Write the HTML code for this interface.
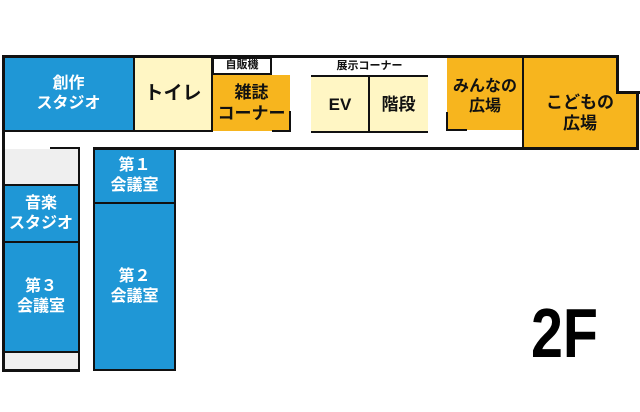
<!DOCTYPE html>
<html><head><meta charset="utf-8"><style>
body{margin:0;width:640px;height:412px;background:#fff;position:relative;overflow:hidden;font-family:"Liberation Sans","Noto Sans CJK JP",sans-serif;font-weight:bold}
.b{position:absolute;box-sizing:border-box;display:flex;align-items:center;justify-content:center;text-align:center;line-height:1.25}
.blue{background:#1f97d6;color:#fff;font-size:16px}
.yel{background:#fff6c4;color:#111;font-size:17px}
.org{background:#f7b51e;color:#111;font-size:17px}
.l{position:absolute;background:#111}
</style></head><body>
<div class="b blue" style="left:3px;top:57px;width:131px;height:74px">創作<br>スタジオ</div>
<div class="b yel" style="left:134px;top:57px;width:78px;height:74px;font-size:19px">トイレ</div>
<div class="b" style="left:212px;top:57px;width:60px;height:18px;border:2px solid #111;font-size:11px;color:#111">自販機</div>
<div class="b org" style="left:213px;top:75px;width:77px;height:56px">雑誌<br>コーナー</div>
<div class="b yel" style="left:311px;top:77px;width:58px;height:55px">EV</div>
<div class="b yel" style="left:369px;top:77px;width:59px;height:55px">階段</div>
<div class="b" style="left:311px;top:60px;width:117px;height:14px;font-size:11px;color:#111">展示コーナー</div>
<div class="b org" style="left:447px;top:57px;width:76px;height:73px;font-size:16px;padding-top:6px">みんなの<br>広場</div>
<div class="b org" style="left:523px;top:57px;width:114px;height:90px;padding-top:22px">こどもの<br>広場</div>
<div style="position:absolute;left:617px;top:54px;width:23px;height:37px;background:#fff"></div>
<div class="b" style="left:3px;top:149px;width:76px;height:36px;background:#efefef"></div>
<div class="b blue" style="left:3px;top:185px;width:76px;height:57px">音楽<br>スタジオ</div>
<div class="b blue" style="left:3px;top:242px;width:76px;height:110px">第３<br>会議室</div>
<div class="b" style="left:3px;top:352px;width:76px;height:18px;background:#efefef"></div>
<div class="b blue" style="left:94px;top:148px;width:81px;height:55px">第１<br>会議室</div>
<div class="b blue" style="left:94px;top:203px;width:81px;height:167px">第２<br>会議室</div>
<div class="l" style="left:2px;top:55px;width:616px;height:3px"></div>
<div class="l" style="left:616px;top:55px;width:3px;height:38px"></div>
<div class="l" style="left:616px;top:91px;width:24px;height:3px"></div>
<div class="l" style="left:636px;top:91px;width:3px;height:57px"></div>
<div class="l" style="left:2px;top:55px;width:3px;height:316px"></div>
<div class="l" style="left:3px;top:130px;width:131px;height:2px"></div>
<div class="l" style="left:133px;top:57px;width:2px;height:75px"></div>
<div class="l" style="left:134px;top:130px;width:78px;height:2px"></div>
<div class="l" style="left:211px;top:57px;width:2px;height:75px"></div>
<div class="l" style="left:289px;top:111px;width:2px;height:21px"></div>
<div class="l" style="left:272px;top:130px;width:19px;height:2px"></div>
<div class="l" style="left:311px;top:75px;width:117px;height:2px"></div>
<div class="l" style="left:311px;top:131px;width:117px;height:2px"></div>
<div class="l" style="left:368px;top:76px;width:2px;height:56px"></div>
<div class="l" style="left:446px;top:112px;width:2px;height:19px"></div>
<div class="l" style="left:446px;top:129px;width:21px;height:2px"></div>
<div class="l" style="left:522px;top:57px;width:2px;height:91px"></div>
<div class="l" style="left:94px;top:147px;width:545px;height:3px"></div>
<div class="l" style="left:174px;top:147px;width:2px;height:224px"></div>
<div class="l" style="left:93px;top:147px;width:2px;height:224px"></div>
<div class="l" style="left:94px;top:202px;width:81px;height:2px"></div>
<div class="l" style="left:93px;top:369px;width:83px;height:2px"></div>
<div class="l" style="left:50px;top:147px;width:30px;height:2px"></div>
<div class="l" style="left:78px;top:147px;width:2px;height:224px"></div>
<div class="l" style="left:3px;top:184px;width:76px;height:2px"></div>
<div class="l" style="left:3px;top:241px;width:76px;height:2px"></div>
<div class="l" style="left:3px;top:351px;width:76px;height:2px"></div>
<div class="l" style="left:2px;top:369px;width:78px;height:3px"></div>
<div style="position:absolute;left:531px;top:298px;font-size:70px;line-height:70px;color:#000;transform:scaleX(0.82);transform-origin:left top">2F</div>
</body></html>
